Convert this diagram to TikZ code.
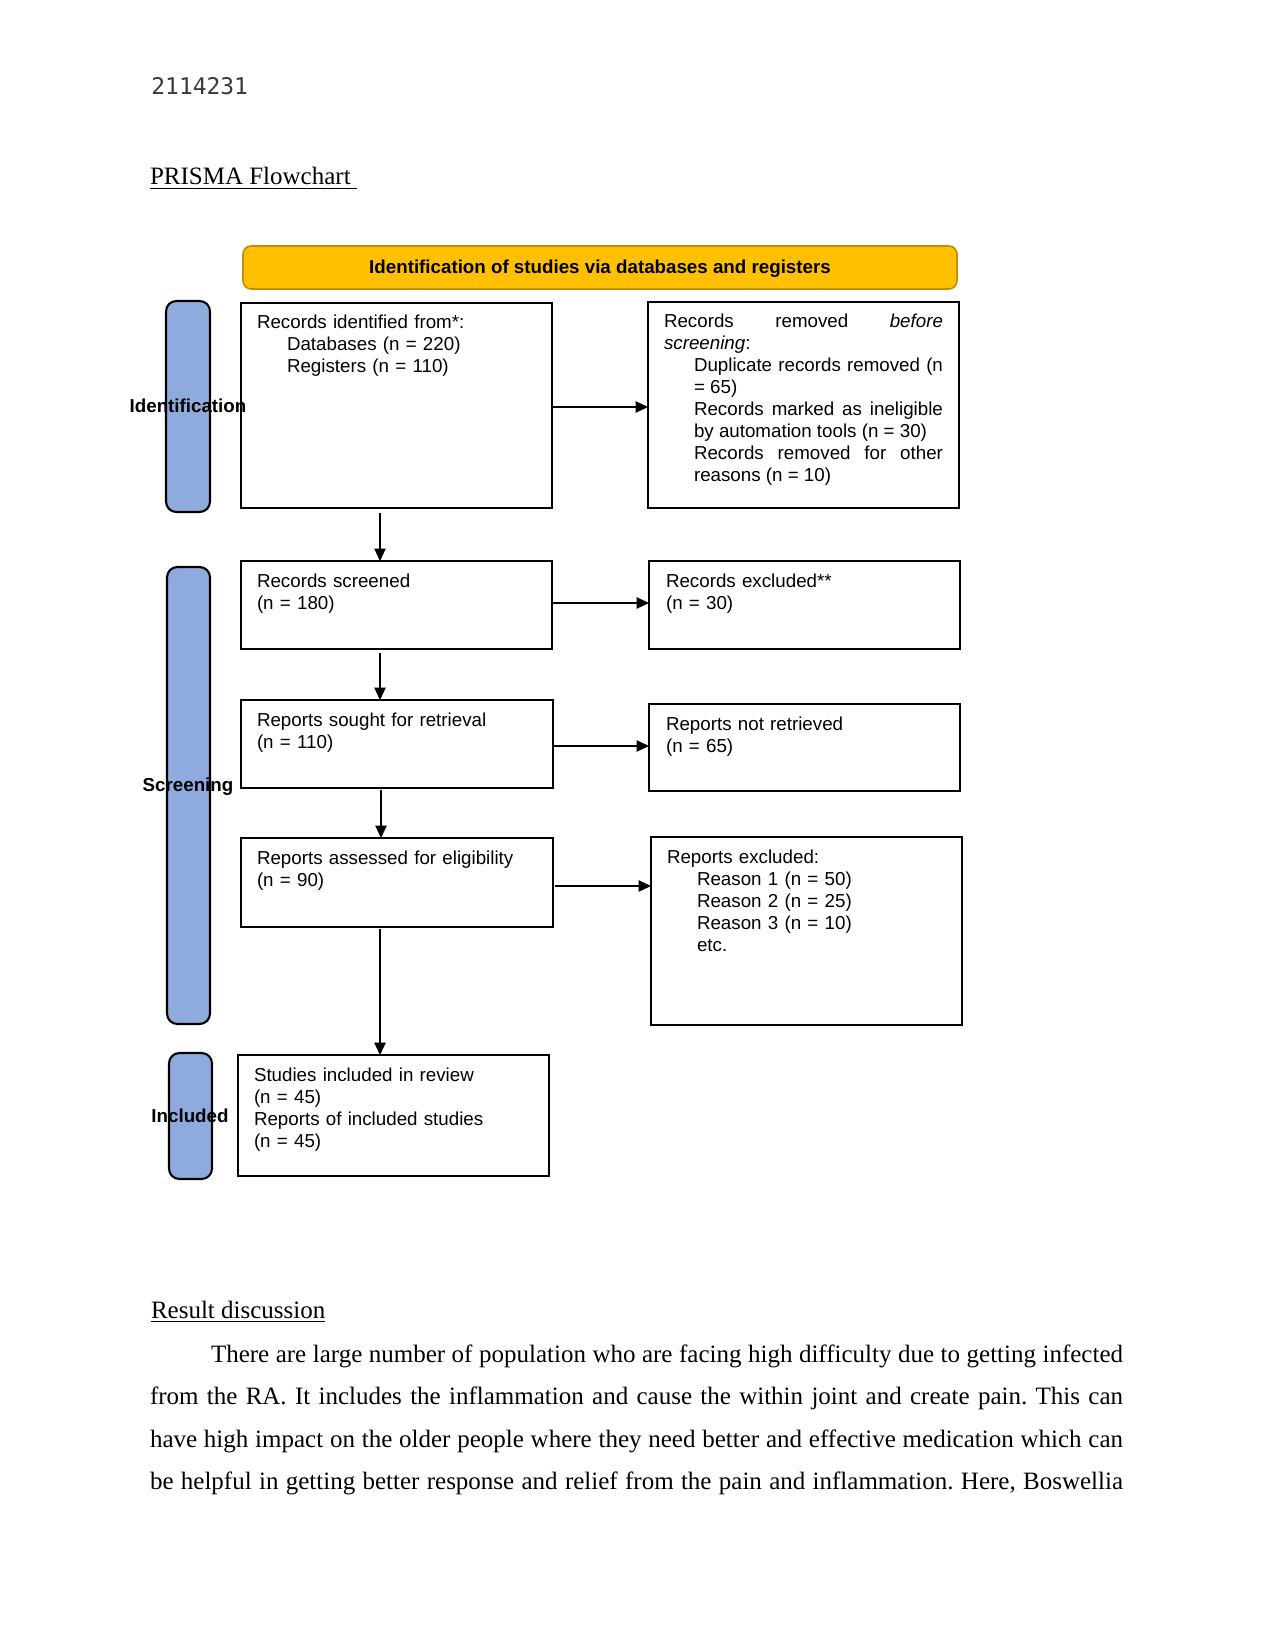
\documentclass[tikz,border=0pt]{standalone}
\usepackage{fontspec}
\setmainfont{Liberation Serif}[Ligatures=CommonOff]
\newfontfamily\arialf{Liberation Sans}
\newfontfamily\monohdr{DejaVu Sans Mono}
\usetikzlibrary{arrows.meta,fit,calc}
\definecolor{bannerfill}{HTML}{FFC000}
\definecolor{bannerdraw}{HTML}{BF9000}
\definecolor{barblue}{HTML}{8FAADC}
\definecolor{hdrgray}{HTML}{3A3A3A}
\frenchspacing
\begin{document}
\begin{tikzpicture}[x=0.48pt,y=-0.48pt,
  box/.style={draw=black, line width=1pt, inner sep=0pt, outer sep=0pt},
  sidebar/.style={draw=black, line width=1pt, fill=barblue, rounded corners=5pt, inner sep=0pt, outer sep=0pt},
  banner/.style={draw=bannerdraw, line width=0.8pt, fill=bannerfill, rounded corners=4pt, inner sep=0pt, outer sep=0pt},
  arr/.style={-{Triangle[length=6pt,width=5.5pt]}, line width=0.6pt, black},
  txt/.style={anchor=base west, inner sep=0pt, outer sep=0pt, align=left, font={\arialf\frenchspacing\fontsize{9}{10.56}\selectfont}},
  sidelbl/.style={anchor=base, inner sep=0pt, font={\arialf\bfseries\fontsize{9}{10.56}\selectfont}},
  bodyline/.style={anchor=base west, inner sep=0pt, outer sep=0pt, font={\frenchspacing\fontsize{12}{14}\selectfont}},
]
\path[use as bounding box, fill=white] (0,0) rectangle (1275,1650);

% header and title
\node[anchor=base west, inner sep=0pt, font={\monohdr\fontsize{11}{13}\selectfont}, text=hdrgray] (hdr) at (151,95) {2114231};
\node[bodyline] (title) at (150,185) {\underline{PRISMA Flowchart\ }};

% banner
\node[banner, fit={(243,246)(957,289)}] (banner) {};
\node[sidelbl] (bannertxt) at (600,274) {Identification of studies via databases and registers};

% side bars
\node[sidebar, fit={(166,301)(210,512)}] (barI) {};
\node[sidebar, fit={(167,567)(210,1024)}] (barS) {};
\node[sidebar, fit={(169,1053)(212,1179)}] (barN) {};
\node[sidelbl] (lblI) at (188,413) {Identification};
\node[sidelbl] (lblS) at (188,791) {Screening};
\node[sidelbl] (lblN) at (190,1122) {Included};

% boxes
\node[box, fit={(241,303)(552,508)}] (B1) {};
\node[box, fit={(648,302)(959,508)}] (B2) {};
\node[box, fit={(241,561)(552,649)}] (B3) {};
\node[box, fit={(649,561)(960,649)}] (B4) {};
\node[box, fit={(241,700)(553,788)}] (B5) {};
\node[box, fit={(649,704)(960,791)}] (B6) {};
\node[box, fit={(241,838)(553,927)}] (B7) {};
\node[box, fit={(651,837)(962,1025)}] (B8) {};
\node[box, fit={(238,1055)(549,1176)}] (B9) {};

% box texts
\node[txt, text width=135pt] (T1) at ([shift={(16,26)}]B1.north west)
  {Records identified from*:\par{\leftskip=14.4pt Databases (n = 220)\par Registers (n = 110)\par}};
\node[txt, text width=133.9pt, align=justify] (T2) at ([shift={(16,26)}]B2.north west)
  {Records removed \textit{before}\linebreak \textit{screening}:\par
   {\leftskip=14.4pt Duplicate records removed (n\linebreak = 65)\par
    Records marked as ineligible\linebreak by automation tools (n = 30)\par
    Records removed for other\linebreak reasons (n = 10)\par}};
\node[txt, text width=135pt] (T3) at ([shift={(16,26)}]B3.north west) {Records screened\\(n = 180)};
\node[txt, text width=135pt] (T4) at ([shift={(17,26)}]B4.north west) {Records excluded**\\(n = 30)};
\node[txt, text width=135pt] (T5) at ([shift={(16,26)}]B5.north west) {Reports sought for retrieval\\(n = 110)};
\node[txt, text width=135pt] (T6) at ([shift={(17,26)}]B6.north west) {Reports not retrieved\\(n = 65)};
\node[txt, text width=135pt] (T7) at ([shift={(16,26)}]B7.north west) {Reports assessed for eligibility\\(n = 90)};
\node[txt, text width=135pt] (T8) at ([shift={(16,26)}]B8.north west)
  {Reports excluded:\par{\leftskip=14.4pt Reason 1 (n = 50)\par Reason 2 (n = 25)\par Reason 3 (n = 10)\par etc.\par}};
\node[txt, text width=135pt] (T9) at ([shift={(16,26)}]B9.north west)
  {Studies included in review\\(n = 45)\\Reports of included studies\\(n = 45)};

% connectors
\draw[arr] (B1.east |- 0,407) -- (B2.west |- 0,407);
\draw[arr] ([yshift=-2.4pt]B1.south -| 380,0) -- (B3.north -| 380,0);
\draw[arr] (B3.east |- 0,603) -- (B4.west |- 0,603);
\draw[arr] ([yshift=-1.9pt]B3.south -| 380,0) -- (B5.north -| 380,0);
\draw[arr] (B5.east |- 0,746) -- (B6.west |- 0,746);
\draw[arr] ([yshift=-1pt]B5.south -| 381,0) -- (B7.north -| 381,0);
\draw[arr] ([xshift=1pt]B7.east |- 0,886) -- (B8.west |- 0,886);
\draw[arr] ([yshift=-1pt]B7.south -| 380,0) -- (B9.north -| 380,0);

% body text
\node[bodyline] (rd) at (151,1318) {\underline{Result discussion}};
\node[bodyline] (p1) at (211,1362) {\makebox[437.76pt][s]{There are large number of population who are facing high difficulty due to getting infected}};
\node[bodyline] (p2) at (150,1404) {\makebox[467.04pt][s]{from the RA. It includes the inflammation and cause the within joint and create pain. This can}};
\node[bodyline] (p3) at (150,1447) {\makebox[467.04pt][s]{have high impact on the older people where they need better and effective medication which can}};
\node[bodyline] (p4) at (150,1489) {\makebox[467.04pt][s]{be helpful in getting better response and relief from the pain and inflammation. Here, Boswellia}};
\end{tikzpicture}
\end{document}
